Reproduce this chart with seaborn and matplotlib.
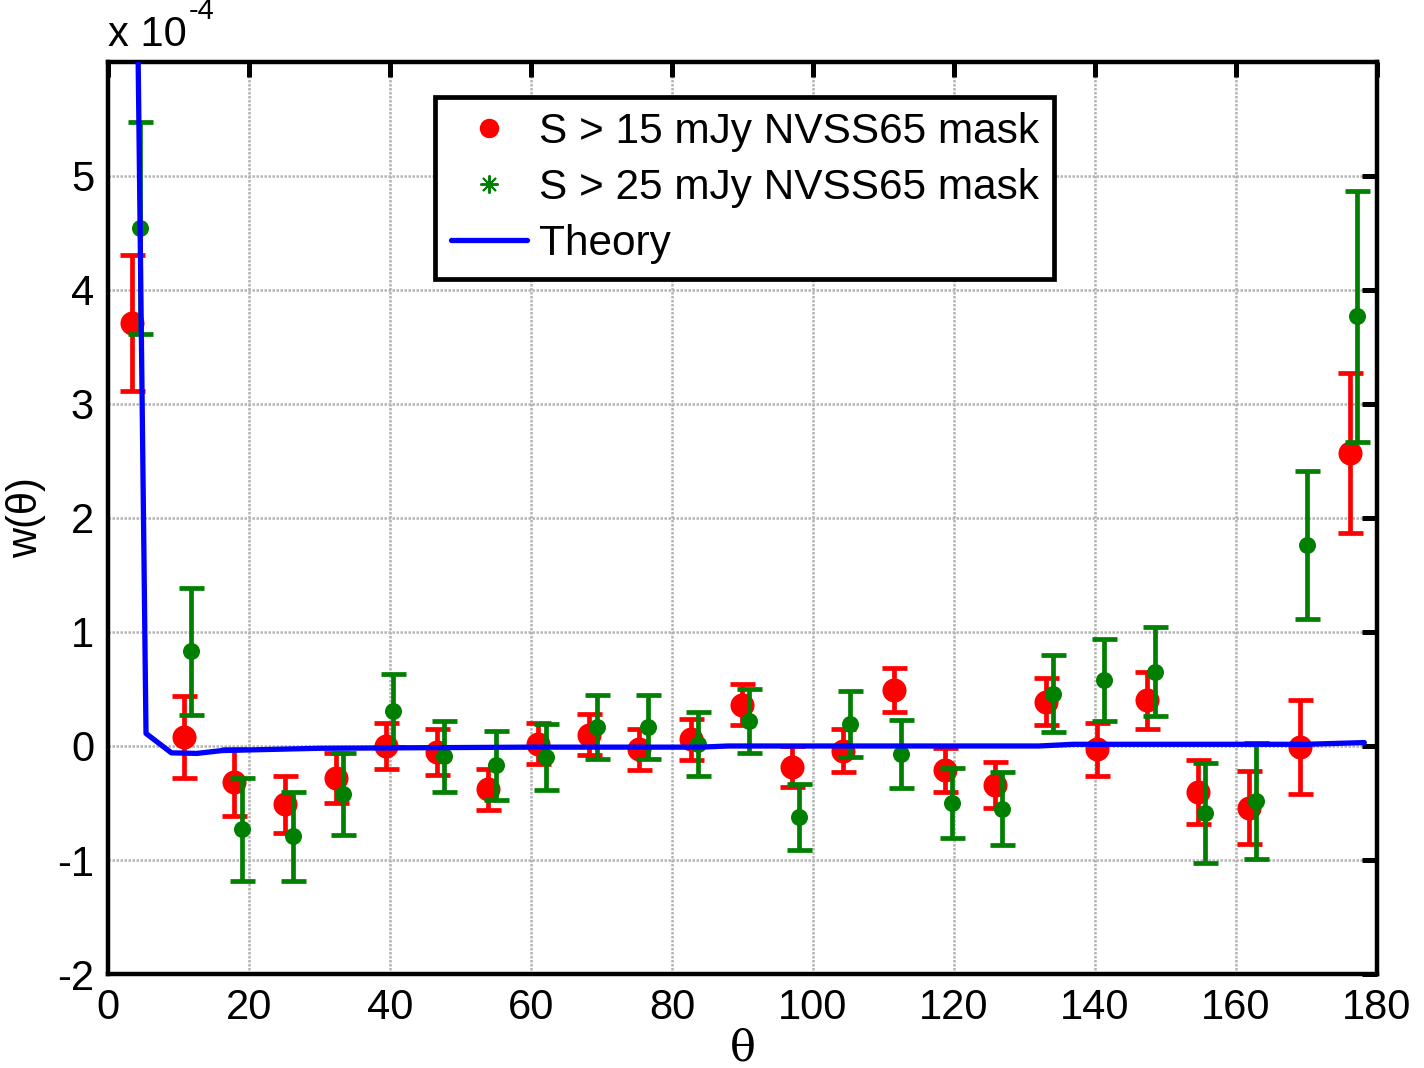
import numpy as np
import pandas as pd
import matplotlib
matplotlib.use("Agg")
import matplotlib.pyplot as plt
from matplotlib.lines import Line2D
import seaborn as sns

# Angular correlation function w(theta), in units of 1e-4
theta_15 = [3.4, 10.8, 17.9, 25.1, 32.3, 39.4, 46.7, 53.9, 61.0, 68.2, 75.3, 82.7, 89.9,
            97.0, 104.3, 111.5, 118.7, 125.8, 133.0, 140.3, 147.4, 154.6, 161.8, 169.1, 176.2]
w_15 = [3.71, 0.08, -0.32, -0.51, -0.28, 0.0, -0.05, -0.38, 0.02, 0.10, -0.03, 0.06, 0.36,
        -0.18, -0.04, 0.49, -0.21, -0.34, 0.39, -0.03, 0.40, -0.40, -0.54, -0.01, 2.57]
err_15 = [0.60, 0.36, 0.29, 0.25, 0.22, 0.20, 0.20, 0.18, 0.18, 0.18, 0.18, 0.18, 0.18,
          0.18, 0.19, 0.19, 0.19, 0.20, 0.21, 0.23, 0.25, 0.28, 0.32, 0.41, 0.70]

theta_25 = [4.5, 11.8, 19.0, 26.2, 33.3, 40.5, 47.7, 55.0, 62.1, 69.4, 76.6, 83.7, 90.9,
            98.0, 105.2, 112.5, 119.7, 126.8, 134.0, 141.3, 148.5, 155.6, 162.8, 170.1, 177.2]
w_25 = [4.54, 0.83, -0.73, -0.79, -0.42, 0.31, -0.09, -0.17, -0.10, 0.17, 0.17, 0.02, 0.22,
        -0.62, 0.19, -0.07, -0.50, -0.55, 0.46, 0.58, 0.65, -0.59, -0.48, 1.76, 3.77]
err_25 = [0.93, 0.56, 0.45, 0.39, 0.36, 0.32, 0.31, 0.30, 0.29, 0.28, 0.28, 0.28, 0.28,
          0.29, 0.29, 0.30, 0.31, 0.32, 0.34, 0.36, 0.39, 0.44, 0.51, 0.65, 1.10]

theta_th = [1.8, 5.4, 9.0, 12.6, 16.2, 30.0, 45.0, 60.0, 84.0, 88.0, 132.0, 137.0, 170.0, 178.2]
w_th = [19.2, 0.11, -0.06, -0.065, -0.04, -0.02, -0.015, -0.01, -0.01, 0.0, 0.0, 0.015, 0.015, 0.03]

sns.set_style("white")
plt.rcParams["font.family"] = ["Liberation Sans", "DejaVu Sans"]
plt.rcParams["text.color"] = "black"
plt.rcParams["axes.labelcolor"] = "black"

fig = plt.figure(figsize=(14.24, 10.68), dpi=100)
ax = fig.add_axes([0.0758, 0.088, 0.8912, 0.854])

df15 = pd.DataFrame({"theta": theta_15, "w": w_15, "err": err_15})
df25 = pd.DataFrame({"theta": theta_25, "w": w_25, "err": err_25})
dth = pd.DataFrame({"theta": theta_th, "w": w_th})

red = "#ff0000"
green = "#007f00"
blue = "#0000ff"

ax.errorbar(df15["theta"], df15["w"], yerr=df15["err"], fmt="none", ecolor=red,
            elinewidth=3.4, capsize=9, capthick=3.4, zorder=3)
sns.scatterplot(data=df15, x="theta", y="w", ax=ax, color=red, s=300,
                edgecolor=red, linewidth=0, zorder=4, legend=False)

ax.errorbar(df25["theta"], df25["w"], yerr=df25["err"], fmt="none", ecolor=green,
            elinewidth=3.4, capsize=9, capthick=3.4, zorder=5)
sns.scatterplot(data=df25, x="theta", y="w", ax=ax, color=green, s=150,
                edgecolor=green, linewidth=0, zorder=6, legend=False)

sns.lineplot(data=dth, x="theta", y="w", ax=ax, color=blue, linewidth=3.8,
             zorder=7, legend=False, estimator=None, sort=False)

ax.set_xlim(0, 180)
ax.set_ylim(-2, 6)
ax.set_xticks(np.arange(0, 181, 20))
ax.set_yticks(np.arange(-2, 6, 1))
ax.set_yticklabels([str(v) for v in range(-2, 6)])

ax.grid(True, color="#b4b4b4", linestyle=(0, (1, 0.6)), linewidth=1.8)
ax.set_axisbelow(True)

for s in ax.spines.values():
    s.set_color("black")
    s.set_linewidth(3.2)
ax.tick_params(direction="in", length=11, width=3.6, top=True, right=True,
               labelsize=30, pad=10, colors="black")

ax.set_xlabel("θ", fontsize=31, family=["DejaVu Serif"], labelpad=0)
ax.set_ylabel("w(θ)", fontsize=30, labelpad=8)

ax.text(0.0, 1.008, "x 10", transform=ax.transAxes, fontsize=30, ha="left", va="bottom")
ax.text(0.064, 1.04, "-4", transform=ax.transAxes, fontsize=21, ha="left", va="bottom")

handles = [
    Line2D([], [], linestyle="none", marker="o", markersize=13, color=red),
    Line2D([], [], linestyle="none", marker=(8, 2, 0), markersize=13, color=green,
           markeredgewidth=1.4),
    Line2D([], [], color=blue, linewidth=3.8),
]
labels = ["S > 15 mJy NVSS65 mask", "S > 25 mJy NVSS65 mask", "Theory"]
leg = ax.legend(handles, labels, loc="upper left", bbox_to_anchor=(0.258, 0.962),
                fontsize=30.5, frameon=True, fancybox=False, framealpha=1,
                edgecolor="black", handlelength=1.8, handletextpad=0.28,
                borderpad=0.36, labelspacing=0.38, borderaxespad=0)
leg.get_frame().set_linewidth(3.4)
leg.set_zorder(10)

fig.savefig("out.png", dpi=100, facecolor="white")
